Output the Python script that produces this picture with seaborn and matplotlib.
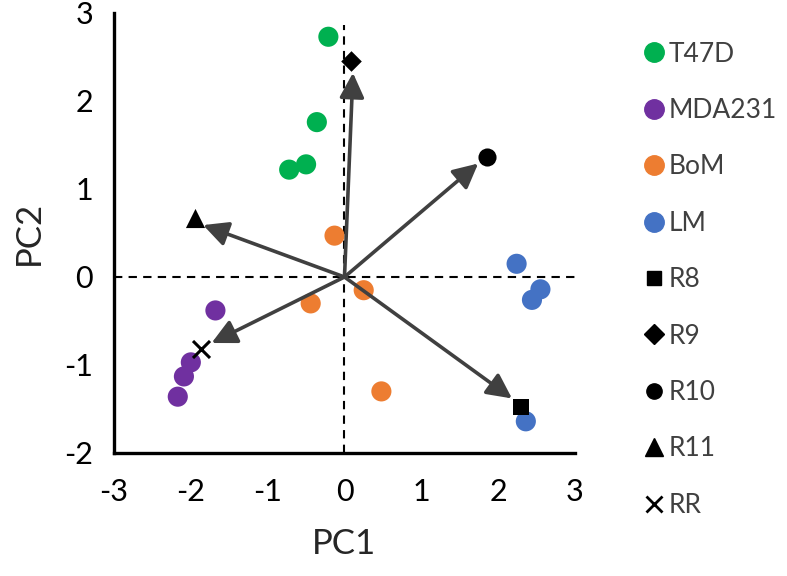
import matplotlib
matplotlib.use("Agg")
import matplotlib.pyplot as plt
from matplotlib.lines import Line2D
import seaborn as sns
import pandas as pd

# ---- data ----
groups = ["T47D", "MDA231", "BoM", "LM"]
group_colors = ["#00B050", "#7030A0", "#ED7D31", "#4472C4"]
t47d_x = [-0.21, -0.36, -0.50, -0.72]
t47d_y = [2.73, 1.76, 1.28, 1.22]
mda_x = [-1.68, -2.00, -2.09, -2.17]
mda_y = [-0.38, -0.97, -1.13, -1.36]
bom_x = [-0.13, -0.44, 0.25, 0.48]
bom_y = [0.47, -0.30, -0.15, -1.30]
lm_x = [2.24, 2.55, 2.44, 2.36]
lm_y = [0.15, -0.14, -0.26, -1.64]

refs = ["R8", "R9", "R10", "R11", "RR"]
ref_markers = ["s", "D", "o", "^", "x"]
ref_x = [2.30, 0.08, 1.86, -1.94, -1.87]
ref_y = [-1.48, 2.45, 1.36, 0.67, -0.82]

arrow_x = [2.18, 0.11, 1.74, -1.84, -1.73]
arrow_y = [-1.38, 2.32, 1.29, 0.59, -0.75]

xticks = [-3, -2, -1, 0, 1, 2, 3]
yticks = [-2, -1, 0, 1, 2, 3]

sns.set_style("white")
plt.rcParams["font.family"] = ["Lato", "DejaVu Sans"]

fig = plt.figure(figsize=(7.87, 5.76), dpi=100)
ax = fig.add_axes([114/787, 1-453/576, (575-114)/787, (453-13)/576])

df = pd.DataFrame({
    "PC1": t47d_x + mda_x + bom_x + lm_x,
    "PC2": t47d_y + mda_y + bom_y + lm_y,
    "group": sum([[g]*4 for g in groups], []),
})

# reference lines
ax.axhline(0, color="black", lw=1.5, ls=(0, (4, 3)), zorder=1)
ax.plot([0, 0], [-2, 2.86], color="black", lw=1.5, ls=(0, (4, 3)), zorder=1)

sns.scatterplot(data=df, x="PC1", y="PC2", hue="group", hue_order=groups,
                palette=group_colors, s=210, linewidth=0, ax=ax, legend=False, zorder=3)

ref_sizes = [120, 110, 170, 190, 150]
for rx, ry, m, sz in zip(ref_x, ref_y, ref_markers, ref_sizes):
    if m == "x":
        ax.scatter([rx], [ry], marker=m, s=sz, color="black", linewidths=2.2, zorder=4)
    else:
        ax.scatter([rx], [ry], marker=m, s=sz, color="black", linewidths=0, zorder=4)

for axx, ayy in zip(arrow_x, arrow_y):
    ax.annotate("", xy=(axx, ayy), xytext=(0, 0),
                arrowprops=dict(arrowstyle="-|>,head_length=0.6,head_width=0.3",
                                mutation_scale=25, color="#404040", lw=2.6,
                                shrinkA=0, shrinkB=0), zorder=5)

ax.set_xlim(-3, 3)
ax.set_ylim(-2, 3)
ax.set_xticks(xticks)
ax.set_yticks(yticks)
ax.set_xticklabels([str(v) for v in xticks])
ax.set_yticklabels([str(v) for v in yticks])
for s in ["top", "right"]:
    ax.spines[s].set_visible(False)
for s in ["left", "bottom"]:
    ax.spines[s].set_linewidth(2.4)
    ax.spines[s].set_color("black")
ax.tick_params(axis="x", direction="out", length=9, width=2.4, labelsize=22, pad=9, colors="black")
ax.tick_params(axis="y", direction="out", length=7, width=2.4, labelsize=22, pad=8, colors="black")
ax.set_xlabel("PC1", fontsize=25, labelpad=16)
ax.set_ylabel("PC2", fontsize=25, labelpad=14)

# legend
handles = []
for g, c in zip(groups, group_colors):
    handles.append(Line2D([], [], marker="o", ls="", color=c, markersize=14))
leg_sizes = [10, 10, 11, 13, 11]
for m, ms in zip(ref_markers, leg_sizes):
    if m == "x":
        handles.append(Line2D([], [], marker=m, ls="", color="black", markersize=ms, markeredgewidth=2))
    else:
        handles.append(Line2D([], [], marker=m, ls="", color="black", markersize=ms))
leg = fig.legend(handles, groups + refs, loc="upper left", bbox_to_anchor=(630/787, 1-31/576),
                 frameon=False, fontsize=19, labelspacing=1.19, handletextpad=0.08,
                 handlelength=1.0, borderaxespad=0)
for t in leg.get_texts():
    t.set_color("#404040")

fig.savefig("out.png", dpi=100)
